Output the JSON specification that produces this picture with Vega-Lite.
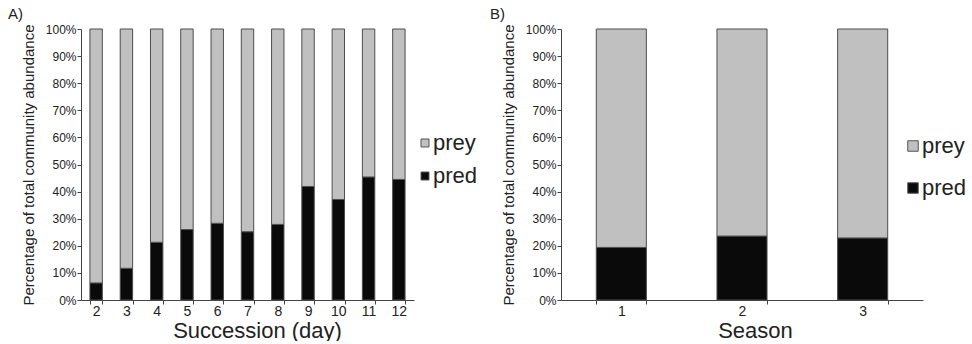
{
  "$schema": "https://vega.github.io/schema/vega-lite/v6.json",
  "autosize": {"type": "pad"},
  "padding": {"left": 8, "top": 6, "right": 0, "bottom": 0},
  "background": "white",
  "config": {
    "font": "Liberation Sans",
    "view": {"stroke": null},
    "axis": {
      "grid": false,
      "domainColor": "#444444",
      "tickColor": "#444444",
      "tickSize": 4,
      "labelColor": "#222222",
      "titleColor": "#222222",
      "titleFontWeight": "normal"
    },
    "title": {"fontWeight": "normal", "fontSize": 15, "color": "#222222", "anchor": "start", "frame": "group"},
    "legend": {"labelColor": "#222222"}
  },
  "datasets": {
    "succession": [
      {"day": "2", "group": "pred", "pct": 6.3}, {"day": "2", "group": "prey", "pct": 93.7},
      {"day": "3", "group": "pred", "pct": 11.7}, {"day": "3", "group": "prey", "pct": 88.3},
      {"day": "4", "group": "pred", "pct": 21.3}, {"day": "4", "group": "prey", "pct": 78.7},
      {"day": "5", "group": "pred", "pct": 26.0}, {"day": "5", "group": "prey", "pct": 74.0},
      {"day": "6", "group": "pred", "pct": 28.3}, {"day": "6", "group": "prey", "pct": 71.7},
      {"day": "7", "group": "pred", "pct": 25.2}, {"day": "7", "group": "prey", "pct": 74.8},
      {"day": "8", "group": "pred", "pct": 27.9}, {"day": "8", "group": "prey", "pct": 72.1},
      {"day": "9", "group": "pred", "pct": 41.9}, {"day": "9", "group": "prey", "pct": 58.1},
      {"day": "10", "group": "pred", "pct": 37.1}, {"day": "10", "group": "prey", "pct": 62.9},
      {"day": "11", "group": "pred", "pct": 45.4}, {"day": "11", "group": "prey", "pct": 54.6},
      {"day": "12", "group": "pred", "pct": 44.5}, {"day": "12", "group": "prey", "pct": 55.5}
    ],
    "season": [
      {"season": "1", "group": "pred", "pct": 19.4}, {"season": "1", "group": "prey", "pct": 80.6},
      {"season": "2", "group": "pred", "pct": 23.6}, {"season": "2", "group": "prey", "pct": 76.4},
      {"season": "3", "group": "pred", "pct": 22.9}, {"season": "3", "group": "prey", "pct": 77.1}
    ]
  },
  "spacing": 12,
  "resolve": {"scale": {"color": "independent"}, "legend": {"color": "independent"}},
  "hconcat": [
    {
      "width": 333,
      "height": 271,
      "title": {"text": "A)", "dx": -73, "offset": 0},
      "data": {"name": "succession"},
      "mark": {"type": "bar", "stroke": "#4d4d4d", "strokeWidth": 1},
      "encoding": {
        "x": {
          "field": "day", "type": "ordinal", "sort": null,
          "scale": {"paddingInner": 0.59, "paddingOuter": 0.295},
          "axis": {"title": "Succession (day)", "labelAngle": 0, "tickBand": "extent",
                   "labelFontSize": 14, "labelPadding": 0, "titleFontSize": 22, "titlePadding": 2,
                   "titleX": 176}
        },
        "y": {
          "field": "pct", "type": "quantitative", "stack": "zero",
          "scale": {"domain": [0, 100], "nice": false},
          "axis": {"title": "Percentage of  total community abundance",
                   "values": [0, 10, 20, 30, 40, 50, 60, 70, 80, 90, 100],
                   "labelExpr": "datum.value + '%'", "labelFontSize": 12, "labelPadding": 1,
                   "titleFontSize": 15, "titlePadding": 9}
        },
        "color": {
          "field": "group", "type": "nominal",
          "scale": {"domain": ["prey", "pred"], "range": ["#c0c0c0", "#0a0a0a"]},
          "legend": {"title": null, "orient": "none", "legendX": 333, "legendY": 103,
                     "symbolType": "square", "symbolSize": 64, "symbolStrokeColor": "#555555",
                     "symbolStrokeWidth": 1, "labelFontSize": 22, "rowPadding": 11, "labelOffset": -3}
        },
        "order": {"field": "group", "sort": "ascending"}
      }
    },
    {
      "width": 362,
      "height": 271,
      "title": {"text": "B)", "dx": -71, "offset": 0},
      "data": {"name": "season"},
      "mark": {"type": "bar", "stroke": "#4d4d4d", "strokeWidth": 1},
      "encoding": {
        "x": {
          "field": "season", "type": "ordinal", "sort": null,
          "scale": {"paddingInner": 0.585, "paddingOuter": 0.2925},
          "axis": {"title": "Season", "labelAngle": 0, "tickBand": "extent",
                   "labelFontSize": 14, "labelPadding": 0, "titleFontSize": 22, "titlePadding": 2,
                   "titleX": 194}
        },
        "y": {
          "field": "pct", "type": "quantitative", "stack": "zero",
          "scale": {"domain": [0, 100], "nice": false},
          "axis": {"title": "Percentage of  total community abundance",
                   "values": [0, 10, 20, 30, 40, 50, 60, 70, 80, 90, 100],
                   "labelExpr": "datum.value + '%'", "labelFontSize": 12, "labelPadding": 1,
                   "titleFontSize": 15, "titlePadding": 9}
        },
        "color": {
          "field": "group", "type": "nominal",
          "scale": {"domain": ["prey", "pred"], "range": ["#c0c0c0", "#0a0a0a"]},
          "legend": {"title": null, "orient": "none", "legendX": 341, "legendY": 106,
                     "symbolType": "square", "symbolSize": 110, "symbolStrokeColor": "#555555",
                     "symbolStrokeWidth": 1, "labelFontSize": 22, "rowPadding": 20, "labelOffset": -2}
        },
        "order": {"field": "group", "sort": "ascending"}
      }
    }
  ]
}
